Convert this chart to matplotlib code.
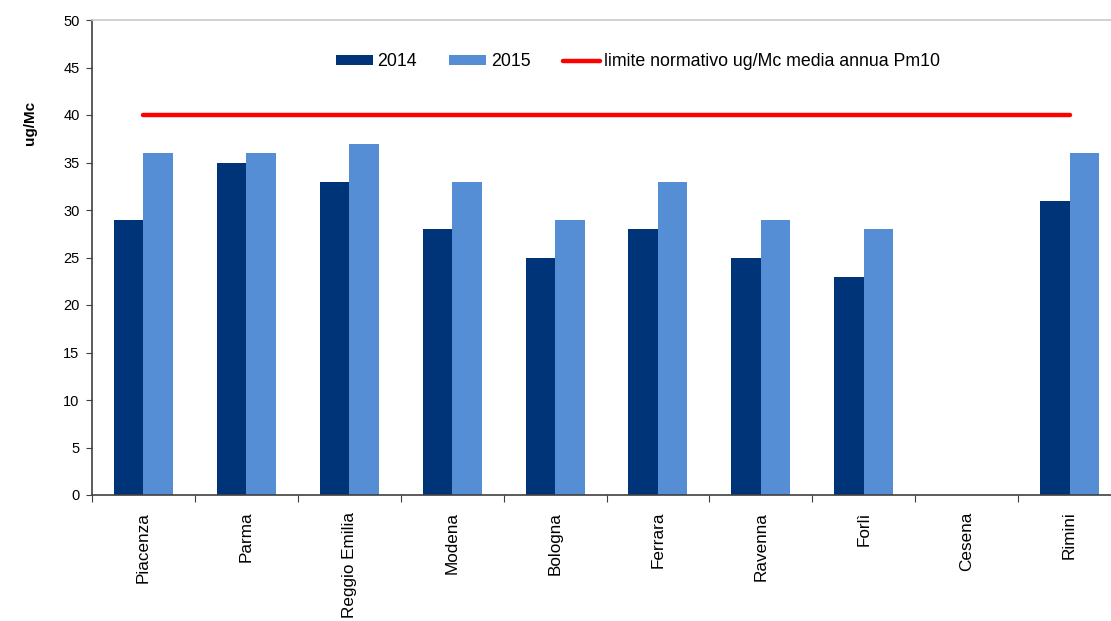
import matplotlib
matplotlib.use("Agg")
import matplotlib.pyplot as plt
import numpy as np

plt.rcParams['font.family'] = ['Liberation Sans', 'DejaVu Sans']

cities = ["Piacenza", "Parma", "Reggio Emilia", "Modena", "Bologna",
          "Ferrara", "Ravenna", "Forlì", "Cesena", "Rimini"]
pm10_2014 = [29, 35, 33, 28, 25, 28, 25, 23, np.nan, 31]
pm10_2015 = [36, 36, 37, 33, 29, 33, 29, 28, np.nan, 36]
limit_value = 40
yticks = list(range(0, 55, 5))

c2014 = "#003478"
c2015 = "#558ED5"

fig = plt.figure(figsize=(11.11, 6.21), dpi=100)
ax = fig.add_axes([92/1111, 1 - 495/621, (1121 - 92)/1111, (495 - 20)/621])

x = np.arange(len(cities))
w = 0.287
b1 = ax.bar(x - w/2, pm10_2014, width=w, color=c2014, label="2014")
b2 = ax.bar(x + w/2, pm10_2015, width=w, color=c2015, label="2015")
ln, = ax.plot([x[0], x[-1]], [limit_value, limit_value], color="#FF0000",
              lw=3.2, solid_capstyle="round",
              label="limite normativo ug/Mc media annua Pm10")

ax.set_xlim(-0.5, len(cities) - 0.5)
ax.set_ylim(0, 50)
ax.set_yticks(yticks)
ax.tick_params(axis="y", labelsize=10.5, length=4, direction="out",
               color="#404040", pad=5)

ax.set_xticks(np.arange(len(cities) + 1) - 0.5)
ax.set_xticklabels([])
ax.set_xticks(x, minor=True)
ax.set_xticklabels(cities, minor=True, rotation=90, fontsize=12.3,
                   va="top", ha="center")
ax.tick_params(axis="x", which="major", length=5, direction="out",
               color="#404040")
ax.tick_params(axis="x", which="minor", length=0, pad=12)

for s in ["left", "bottom"]:
    ax.spines[s].set_color("#404040")
    ax.spines[s].set_linewidth(1.2)
ax.spines["right"].set_visible(False)
ax.spines["top"].set_color("#c8c8c8")
ax.spines["top"].set_linewidth(1.2)

fig.text(30/1111, 1 - 123/621, "ug/Mc", rotation=90, fontsize=11,
         fontweight="bold", ha="center", va="center")

fig.legend(handles=[b1, b2, ln], loc="center",
           bbox_to_anchor=(638/1111, 1 - 62/621), ncol=3, frameon=False,
           fontsize=12.8, handlelength=2.1, handleheight=0.5,
           columnspacing=1.8, handletextpad=0.25)

fig.savefig("out.png", dpi=100)
